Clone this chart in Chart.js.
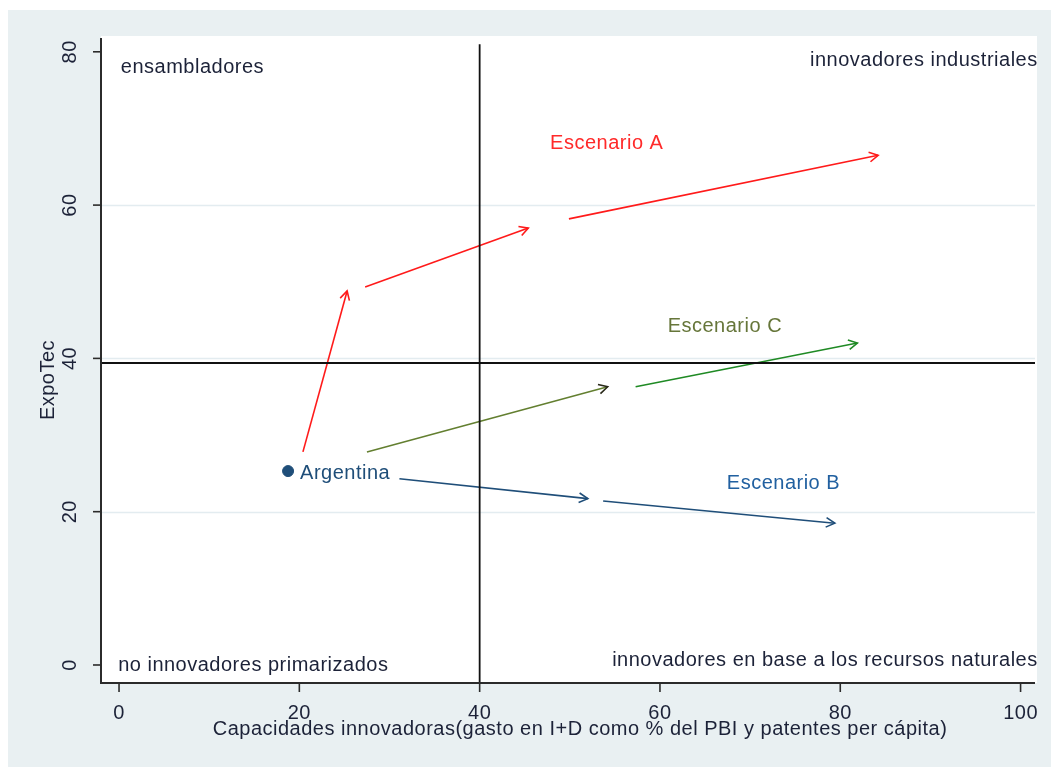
<!DOCTYPE html>
<html><head><meta charset="utf-8">
<script src="https://cdn.jsdelivr.net/npm/chart.js@4/dist/chart.umd.min.js"></script>
<style>html,body{margin:0;padding:0;background:#fff;overflow:hidden}</style>
</head><body>
<canvas id="c" width="1051" height="767" style="display:block;width:1051px;height:767px"></canvas>
<script>
// ---- data ----
const xTicks = [0, 20, 40, 60, 80, 100];
const yTicks = [0, 20, 40, 60, 80];
const gridValues = [20, 40, 60];
const xRange = [-2, 101.6];
const yRange = [-2.35, 81.8];
const argentina = [18.75, 25.3];
const argentinaLabel = "Argentina";
// arrows: [x0, y0, x1, y1]
const arrowsA = [[20.4, 27.8, 25.3, 48.8], [27.3, 49.3, 45.4, 57.0], [49.9, 58.2, 84.2, 66.5]];
const arrowsC = [[27.5, 27.8, 54.2, 36.3], [57.3, 36.3, 81.9, 42.0]];
const arrowsB = [[31.1, 24.3, 52.0, 21.7], [53.7, 21.4, 79.4, 18.5]];
const refX = 40;
const refY = 39.4;
const refXTop = 81;
const scenarioLabels = [["Escenario A", 54.1, 68.1], ["Escenario C", 67.2, 44.2], ["Escenario B", 73.7, 23.7]];
const quadrantLabels = [
  ["ensambladores", 0.2, 78.0, "left"],
  ["innovadores industriales", 101.9, 78.9, "right"],
  ["no innovadores primarizados", -0.1, 0.0, "left"],
  ["innovadores en base a los recursos naturales", 101.9, 0.65, "right"]
];
const xTitle = "Capacidades innovadoras(gasto en I+D como % del PBI y patentes per cápita)";
const yTitle = "ExpoTec";

// ---- styles ----
const FONT = '20px "Liberation Sans", Arial, sans-serif';
const TXT = '#1c2238';
const colA = '#ff1a1a', colC1 = '#637f30', colC2 = '#1f8a24', colB = '#1f4e79';
const labelCols = ['#ff2a2a', '#66763a', '#2160a0'];

function seg(a, color, tag) {
  return {
    type: 'line', data: [{x: a[0], y: a[1]}, {x: a[2], y: a[3]}],
    borderColor: color, borderWidth: 1.6, pointRadius: 0, fill: false, clip: false,
    arrow: tag
  };
}
const datasets = [];
datasets.push({type: 'line', data: [{x: refX, y: yRange[0]}, {x: refX, y: refXTop}], borderColor: '#111', borderWidth: 1.8, pointRadius: 0, clip: false});
datasets.push({type: 'line', data: [{x: xRange[0], y: refY}, {x: xRange[1], y: refY}], borderColor: '#111', borderWidth: 1.8, pointRadius: 0, clip: false});
arrowsA.forEach(a => datasets.push(seg(a, colA, colA)));
datasets.push(seg(arrowsC[0], colC1, '#2a2a1a'));
datasets.push(seg(arrowsC[1], colC2, colC2));
arrowsB.forEach(a => datasets.push(seg(a, colB, colB)));
datasets.push({type: 'scatter', data: [{x: argentina[0], y: argentina[1]}], pointRadius: 5.5, pointBackgroundColor: '#1f4e79', pointBorderColor: '#1f4e79', clip: false});

function txt(ctx, s, x, y, align, color, rot) {
  ctx.save();
  ctx.font = FONT;
  try { ctx.letterSpacing = '0.5px'; } catch (e) {}
  ctx.fillStyle = color;
  ctx.textBaseline = 'middle';
  ctx.textAlign = align;
  ctx.translate(x, y);
  if (rot) ctx.rotate(rot);
  ctx.fillText(s, 0, 0);
  ctx.restore();
}

const deco = {
  id: 'deco',
  beforeDraw(chart) {
    const ctx = chart.ctx, a = chart.chartArea, ys = chart.scales.y;
    ctx.save();
    ctx.fillStyle = '#fff'; ctx.fillRect(0, 0, chart.width, chart.height);
    ctx.fillStyle = '#e9f0f2'; ctx.fillRect(8, 10, chart.width - 8, chart.height - 10);
    ctx.fillStyle = '#fff'; ctx.fillRect(a.left, a.top - 2, a.right - a.left + 2, a.bottom - a.top + 2);
    ctx.strokeStyle = '#e3ecf0'; ctx.lineWidth = 1.5;
    gridValues.forEach(v => {
      const y = Math.round(ys.getPixelForValue(v)) + 0.5;
      ctx.beginPath(); ctx.moveTo(a.left, y); ctx.lineTo(a.right, y); ctx.stroke();
    });
    ctx.restore();
  },
  afterDatasetsDraw(chart) {
    const ctx = chart.ctx, a = chart.chartArea, xs = chart.scales.x, ys = chart.scales.y;
    // arrowheads
    chart.data.datasets.forEach((ds, i) => {
      if (!ds.arrow) return;
      const pts = chart.getDatasetMeta(i).data;
      const p0 = pts[0], p1 = pts[1];
      const ang = Math.atan2(p1.y - p0.y, p1.x - p0.x);
      const L = 10, th = 0.5;
      ctx.save();
      ctx.strokeStyle = ds.arrow; ctx.lineWidth = 1.6;
      ctx.beginPath();
      ctx.moveTo(p1.x - L * Math.cos(ang - th), p1.y - L * Math.sin(ang - th));
      ctx.lineTo(p1.x, p1.y);
      ctx.lineTo(p1.x - L * Math.cos(ang + th), p1.y - L * Math.sin(ang + th));
      ctx.stroke();
      ctx.restore();
    });
    // axes
    ctx.save();
    ctx.strokeStyle = '#2b2b2b'; ctx.lineWidth = 2;
    ctx.beginPath();
    ctx.moveTo(a.left, a.top); ctx.lineTo(a.left, a.bottom); ctx.lineTo(a.right, a.bottom);
    ctx.stroke();
    ctx.lineWidth = 1.6;
    yTicks.forEach(v => {
      const y = ys.getPixelForValue(v);
      ctx.beginPath(); ctx.moveTo(a.left - 8, y); ctx.lineTo(a.left, y); ctx.stroke();
      txt(ctx, String(v), 70, y, 'center', TXT, -Math.PI / 2);
    });
    xTicks.forEach(v => {
      const x = xs.getPixelForValue(v);
      ctx.beginPath(); ctx.moveTo(x, a.bottom); ctx.lineTo(x, a.bottom + 9); ctx.stroke();
      txt(ctx, String(v), x, 713, 'center', TXT, 0);
    });
    ctx.restore();
    txt(ctx, xTitle, 580, 729, 'center', TXT, 0);
    txt(ctx, yTitle, 48, 380, 'center', TXT, -Math.PI / 2);
    // labels
    txt(ctx, argentinaLabel, xs.getPixelForValue(argentina[0]) + 12, ys.getPixelForValue(argentina[1]) + 2, 'left', '#1f4e79', 0);
    scenarioLabels.forEach((l, i) => txt(ctx, l[0], xs.getPixelForValue(l[1]), ys.getPixelForValue(l[2]), 'center', labelCols[i], 0));
    quadrantLabels.forEach(l => txt(ctx, l[0], xs.getPixelForValue(l[1]), ys.getPixelForValue(l[2]), l[3], TXT, 0));
  }
};

new Chart(document.getElementById('c'), {
  type: 'scatter',
  data: {datasets},
  options: {
    responsive: false, animation: false, devicePixelRatio: 1,
    layout: {padding: {left: 101, top: 38, right: 16, bottom: 84}},
    plugins: {legend: {display: false}, tooltip: {enabled: false}},
    scales: {
      x: {type: 'linear', min: xRange[0], max: xRange[1], display: false},
      y: {type: 'linear', min: yRange[0], max: yRange[1], display: false}
    }
  },
  plugins: [deco]
});
</script>
</body></html>
